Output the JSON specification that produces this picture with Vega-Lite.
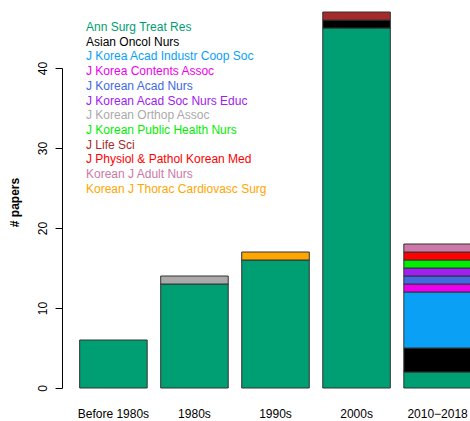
{
  "$schema": "https://vega.github.io/schema/vega-lite/v6.json",
  "width": 406,
  "height": 403,
  "autosize": {"type": "none"},
  "padding": {"left": 64, "top": 0, "right": 0, "bottom": 18},
  "background": "white",
  "config": {
    "font": "Liberation Sans",
    "view": {"stroke": null}
  },
  "data": {
    "values": [
      {"period": "Before 1980s", "journal": "Ann Surg Treat Res", "papers": 6},
      {"period": "1980s", "journal": "Ann Surg Treat Res", "papers": 13},
      {"period": "1980s", "journal": "J Korean Orthop Assoc", "papers": 1},
      {"period": "1990s", "journal": "Ann Surg Treat Res", "papers": 16},
      {"period": "1990s", "journal": "Korean J Thorac Cardiovasc Surg", "papers": 1},
      {"period": "2000s", "journal": "Ann Surg Treat Res", "papers": 45},
      {"period": "2000s", "journal": "Asian Oncol Nurs", "papers": 1},
      {"period": "2000s", "journal": "J Life Sci", "papers": 1},
      {"period": "2010−2018", "journal": "Ann Surg Treat Res", "papers": 2},
      {"period": "2010−2018", "journal": "Asian Oncol Nurs", "papers": 3},
      {"period": "2010−2018", "journal": "J Korea Acad Industr Coop Soc", "papers": 7},
      {"period": "2010−2018", "journal": "J Korea Contents Assoc", "papers": 1},
      {"period": "2010−2018", "journal": "J Korean Acad Nurs", "papers": 1},
      {"period": "2010−2018", "journal": "J Korean Acad Soc Nurs Educ", "papers": 1},
      {"period": "2010−2018", "journal": "J Korean Public Health Nurs", "papers": 1},
      {"period": "2010−2018", "journal": "J Physiol & Pathol Korean Med", "papers": 1},
      {"period": "2010−2018", "journal": "Korean J Adult Nurs", "papers": 1}
    ]
  },
  "mark": {"type": "bar", "stroke": "#333333", "strokeWidth": 1, "clip": true},
  "encoding": {
    "x": {
      "field": "period",
      "type": "nominal",
      "sort": ["Before 1980s", "1980s", "1990s", "2000s", "2010−2018"],
      "scale": {"range": [0, 423], "paddingInner": 0.1667, "paddingOuter": 0.193},
      "axis": {"title": null, "domain": false, "ticks": false, "labelAngle": 0, "labelFontSize": 12, "labelColor": "#000000", "labelPadding": 5}
    },
    "y": {
      "field": "papers",
      "type": "quantitative",
      "aggregate": "sum",
      "stack": "zero",
      "scale": {"domain": [0, 40], "range": [388, 68], "nice": false, "zero": false, "clamp": false},
      "axis": {
        "title": "# papers",
        "titleFontSize": 12,
        "titleFontWeight": "bold",
        "titleColor": "#000000",
        "titlePadding": 15,
        "titleY": 202,
        "values": [0, 10, 20, 30, 40],
        "domain": true,
        "domainColor": "#000000",
        "grid": false,
        "offset": 2,
        "tickSize": 7,
        "tickColor": "#000000",
        "labelAngle": -90,
        "labelAlign": "center",
        "labelBaseline": "bottom",
        "labelPadding": 6,
        "labelFontSize": 12,
        "labelColor": "#000000"
      }
    },
    "color": {
      "field": "journal",
      "type": "nominal",
      "scale": {
        "domain": ["Ann Surg Treat Res", "Asian Oncol Nurs", "J Korea Acad Industr Coop Soc", "J Korea Contents Assoc", "J Korean Acad Nurs", "J Korean Acad Soc Nurs Educ", "J Korean Orthop Assoc", "J Korean Public Health Nurs", "J Life Sci", "J Physiol & Pathol Korean Med", "Korean J Adult Nurs", "Korean J Thorac Cardiovasc Surg"],
        "range": ["#009E73", "#000000", "#0AA0F5", "#EE00EE", "#4169E1", "#A020F0", "#AAAAAA", "#00EE00", "#A52A2A", "#FF0000", "#CC79A7", "#FFA500"]
      },
      "legend": {
        "title": null,
        "orient": "none",
        "legendX": 10,
        "legendY": 21,
        "symbolSize": 0,
        "symbolOpacity": 0,
        "symbolStrokeWidth": 0,
        "labelOffset": 0,
        "labelFontSize": 12,
        "rowPadding": 2.7,
        "labelLimit": 300,
        "labelColor": {"expr": "scale('color', datum.value)"}
      }
    },
    "order": {"field": "journal", "sort": "ascending"}
  }
}
